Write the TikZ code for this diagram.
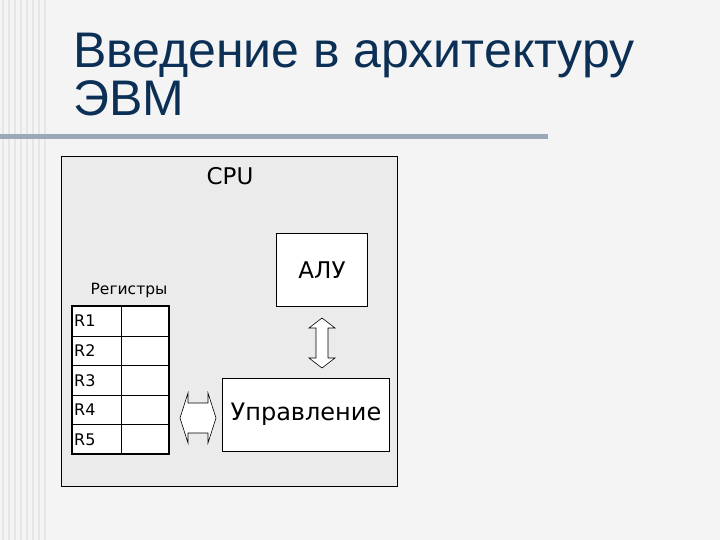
\documentclass[tikz,border=0pt]{standalone}
\usepackage{fontspec}
\setmainfont{DejaVu Sans}
\newfontfamily\titlefont{Liberation Sans}
\definecolor{bg}{HTML}{F4F4F4}
\definecolor{cpu}{HTML}{EBEBEB}
\definecolor{ttl}{HTML}{0B2F55}
\definecolor{rule}{HTML}{9AA8B8}
\tikzset{box/.style={draw=black,line width=0.8pt,fill=white},
 reg/.style={font=\fontsize{16}{16}\selectfont,anchor=west},
 dbl/.style={draw=black,line width=0.6pt,fill=white}}
\begin{document}
\begin{tikzpicture}[x=1pt,y=-1pt]
\useasboundingbox (0,0) rectangle (720,540);
\fill[bg] (0,0) rectangle (720,540);
\foreach \x in {2,8,14,20,26,32,38,44}{\fill[white!80!gray] (\x,0) rectangle (\x+2,540);}
\fill[rule] (0,134) rectangle (548,139);
\node[anchor=base west,text=ttl,font=\titlefont\fontsize{50}{56}\selectfont,align=left,inner sep=0pt] (title) at (73,68) {Введение в архитектуру};
\node[anchor=base west,text=ttl,font=\titlefont\fontsize{50}{56}\selectfont,inner sep=0pt] (title2) at (73,116) {ЭВМ};
\node[draw=black,line width=0.5pt,fill=cpu,minimum width=336,minimum height=330,anchor=north west,inner sep=0] (cpu) at (61,156) {};
\node[font=\fontsize{23}{23}\selectfont] (cpul) at (230,176) {CPU};
\node[box,minimum width=91,minimum height=73,anchor=north west,inner sep=0] (alu) at (276,233) {};
\node[font=\fontsize{23}{23}\selectfont] (alul) at (322,270) {АЛУ};
\node[font=\fontsize{15.5}{16}\selectfont] (regl) at (129,290) {Регистры};
\node[box,minimum width=167,minimum height=73,anchor=north west,inner sep=0] (ctl) at (222,378) {};
\node[font=\fontsize{24}{24}\selectfont] (ctll) at (306,414) {Управление};
\foreach \i/\r in {0/R1,1/R2,2/R3,3/R4,4/R5}{
  \node[draw=black,line width=0.5pt,fill=white,minimum width=49,minimum height=29.6,anchor=north west,inner sep=0] (a\i) at (72,306+29.6*\i) {};
  \node[draw=black,line width=0.5pt,fill=white,minimum width=48,minimum height=29.6,anchor=north west,inner sep=0] (b\i) at (121,306+29.6*\i) {};
  \node[reg,inner sep=0] (t\i) at (74,321+29.6*\i) {\r};
}
\draw[line width=2pt] (72,306) rectangle (169,454);
\coordinate (va) at (322,343);
\draw[dbl] (va) ++(0,-25) -- ++(13,10) -- ++(-7,0) -- ++(0,30) -- ++(7,0) -- ++(-13,10) -- ++(-13,-10) -- ++(7,0) -- ++(0,-30) -- ++(-7,0) -- cycle;
\coordinate (ha) at (198,418);
\draw[dbl] (ha) ++(-18,0) -- ++(8,-25) -- ++(0,10) -- ++(20,0) -- ++(0,-10) -- ++(8,25) -- ++(-8,25) -- ++(0,-10) -- ++(-20,0) -- ++(0,10) -- cycle;
\end{tikzpicture}
\end{document}
